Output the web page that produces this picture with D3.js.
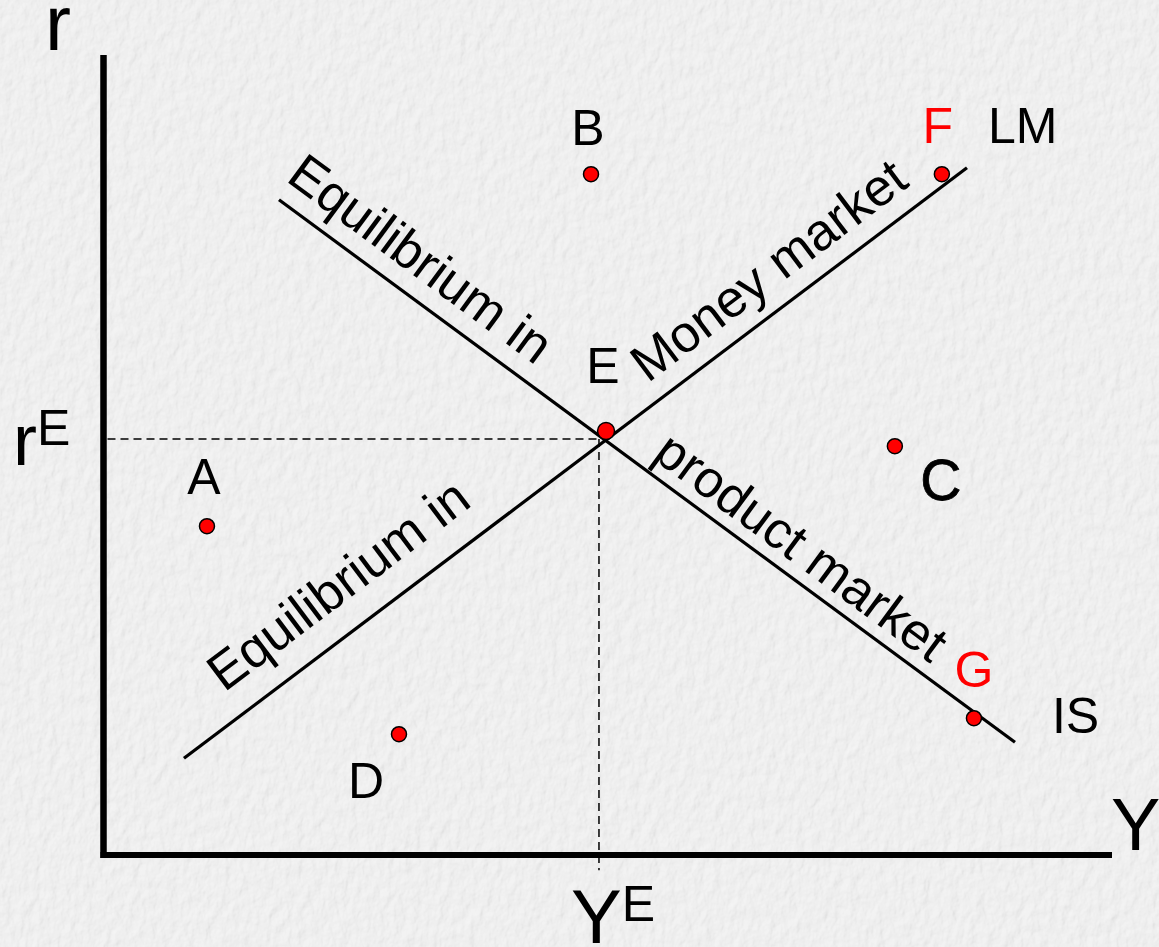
<!DOCTYPE html>
<html>
<head>
<meta charset="utf-8">
<script src="https://cdn.jsdelivr.net/npm/d3@7"></script>
<style>
    html, body { margin: 0; padding: 0; background: #ececec; }
    svg { display: block; }
    text { font-family: 'Liberation Sans', Arial, sans-serif; }
</style>
</head>
<body>
<div id="chart"></div>
<script>
// Curves (endpoints in diagram units, 0-100 on both axes)
const lmLine = [[7.98, 12.1], [85.62, 85.9]];
const isLine = [[17.40, 81.9], [90.38, 14.1]];

// Labelled points
const pointNames = ['A', 'B', 'C', 'D', 'E', 'F', 'G'];
const pointX = [10.26, 48.34, 78.47, 29.30, 49.83, 83.13, 86.31];
const pointY = [41.1, 85.1, 51.1, 15.1, 53.0, 85.1, 17.1];

// Equilibrium guide lines
const rEquilibrium = 52.0;
const yEquilibrium = 49.13;

// Text along the curves: [text, curve, x of the foot on the curve]
const curveLabels = [
    ['Equilibrium in', 'IS', 29.3],
    ['product market', 'IS', 67.4],
    ['Equilibrium in', 'LM', 26.0],
    ['Money market', 'LM', 68.2]
];

const width = 1159, height = 947;

const svg = d3.select('#chart').append('svg')
    .attr('width', width)
    .attr('height', height);

// Paper-like textured background (fine embossed grain)
const defs = svg.append('defs');
const paper = defs.append('filter')
    .attr('id', 'paper')
    .attr('x', 0).attr('y', 0).attr('width', '100%').attr('height', '100%');
paper.append('feTurbulence')
    .attr('type', 'fractalNoise')
    .attr('baseFrequency', '0.11 0.07')
    .attr('numOctaves', 4)
    .attr('seed', 3)
    .attr('result', 'noise');
paper.append('feDiffuseLighting')
    .attr('in', 'noise')
    .attr('lighting-color', '#f6f6f6')
    .attr('surfaceScale', 1.1)
    .attr('result', 'lit')
    .append('feDistantLight')
    .attr('azimuth', 45)
    .attr('elevation', 70);

svg.append('rect')
    .attr('width', width)
    .attr('height', height)
    .attr('fill', '#efefef');
svg.append('rect')
    .attr('width', width)
    .attr('height', height)
    .attr('filter', 'url(#paper)')
    .attr('opacity', 0.75);

// Scales
const x = d3.scaleLinear().domain([0, 100]).range([103.5, 1112]);
const y = d3.scaleLinear().domain([0, 100]).range([855, 55]);

// Dashed guide lines to the axes
svg.append('line')
    .attr('x1', x(0) + 4).attr('x2', x(yEquilibrium))
    .attr('y1', y(rEquilibrium)).attr('y2', y(rEquilibrium))
    .attr('stroke', '#000').attr('stroke-width', 1.5)
    .attr('stroke-dasharray', '8,5');
svg.append('line')
    .attr('x1', x(yEquilibrium)).attr('x2', x(yEquilibrium))
    .attr('y1', y(rEquilibrium)).attr('y2', y(-1.9))
    .attr('stroke', '#000').attr('stroke-width', 1.5)
    .attr('stroke-dasharray', '8,5');

// Axes (plain thick lines, no ticks)
svg.append('line')
    .attr('x1', x(0)).attr('x2', x(0))
    .attr('y1', y(100)).attr('y2', y(0) + 3)
    .attr('stroke', '#000').attr('stroke-width', 6.5);
svg.append('line')
    .attr('x1', x(0) - 3).attr('x2', x(100))
    .attr('y1', y(0)).attr('y2', y(0))
    .attr('stroke', '#000').attr('stroke-width', 6);

// IS and LM curves
const curves = { LM: lmLine, IS: isLine };
const lineGen = d3.line().x(d => x(d[0])).y(d => y(d[1]));
Object.values(curves).forEach(c => {
    svg.append('path')
        .attr('d', lineGen(c))
        .attr('fill', 'none')
        .attr('stroke', '#000')
        .attr('stroke-width', 3.2);
});

// Text running along the curves
const baselineOffset = { 'IS': [19, 13], 'LM': [28, 20] };
curveLabels.forEach((l, i) => {
    const c = curves[l[1]];
    const x0 = x(c[0][0]), y0 = y(c[0][1]);
    const x1 = x(c[1][0]), y1 = y(c[1][1]);
    const ang = Math.atan2(y1 - y0, x1 - x0);
    const fx = x(l[2]);
    const fy = y0 + (fx - x0) * (y1 - y0) / (x1 - x0);
    // normal pointing to the upper side of the curve
    let nx = Math.sin(ang), ny = -Math.cos(ang);
    if (ny > 0) { nx = -nx; ny = -ny; }
    const off = baselineOffset[l[1]][i % 2];
    const tx = fx + nx * off, ty = fy + ny * off;
    svg.append('text')
        .attr('transform', `translate(${tx},${ty}) rotate(${ang * 180 / Math.PI})`)
        .attr('text-anchor', 'middle')
        .style('font-size', '52px')
        .text(l[0]);
});

// Points
const points = pointNames.map((n, i) => ({ name: n, x: pointX[i], y: pointY[i] }));
svg.selectAll('.pt')
    .data(points)
    .enter()
    .append('circle')
    .attr('class', 'pt')
    .attr('cx', d => x(d.x))
    .attr('cy', d => y(d.y))
    .attr('r', d => d.name === 'E' ? 8.5 : 7.5)
    .attr('fill', '#ff0000')
    .attr('stroke', '#000')
    .attr('stroke-width', 1.5);

// Point letters (offset from their dots)
const letterPos = {
    A: [-3, 32, 'middle', '#000'],
    B: [-3, 29, 'middle', '#000'],
    C: [46, -54, 'middle', '#000'],
    D: [-33, -64, 'middle', '#000'],
    E: [-3, 48, 'middle', '#000'],
    F: [-4, 31, 'middle', '#ff0000'],
    G: [0, 31, 'middle', '#ff0000']
};
svg.selectAll('.pt-label')
    .data(points)
    .enter()
    .append('text')
    .attr('class', 'pt-label')
    .attr('x', d => x(d.x) + letterPos[d.name][0])
    .attr('y', d => y(d.y) - letterPos[d.name][1])
    .attr('text-anchor', d => letterPos[d.name][2])
    .attr('fill', d => letterPos[d.name][3])
    .style('font-size', d => d.name === 'C' ? '57px' : '50px')
    .style('stroke', d => d.name === 'C' ? '#000' : 'none')
    .style('stroke-width', 0.8)
    .text(d => d.name);

// Curve names
svg.append('text')
    .attr('x', x(lmLine[1][0]) + 21).attr('y', 143)
    .style('font-size', '50px')
    .text('LM');
svg.append('text')
    .attr('x', x(isLine[1][0]) + 37).attr('y', 733)
    .style('font-size', '50px')
    .text('IS');

// Axis titles
svg.append('text')
    .attr('x', 45).attr('y', 50)
    .style('font-size', '78px')
    .text('r');
svg.append('text')
    .attr('x', 1111).attr('y', 850)
    .style('font-size', '74px')
    .text('Y');

const rE = svg.append('text')
    .attr('x', 13).attr('y', y(rEquilibrium) + 26)
    .style('font-size', '72px');
rE.append('tspan').text('r');
rE.append('tspan').attr('dy', -20).style('font-size', '50px').text('E');

const yE = svg.append('text')
    .attr('x', 571).attr('y', 943)
    .style('font-size', '76px');
yE.append('tspan').text('Y');
yE.append('tspan').attr('dy', -22).style('font-size', '50px').text('E');
</script>
</body>
</html>
